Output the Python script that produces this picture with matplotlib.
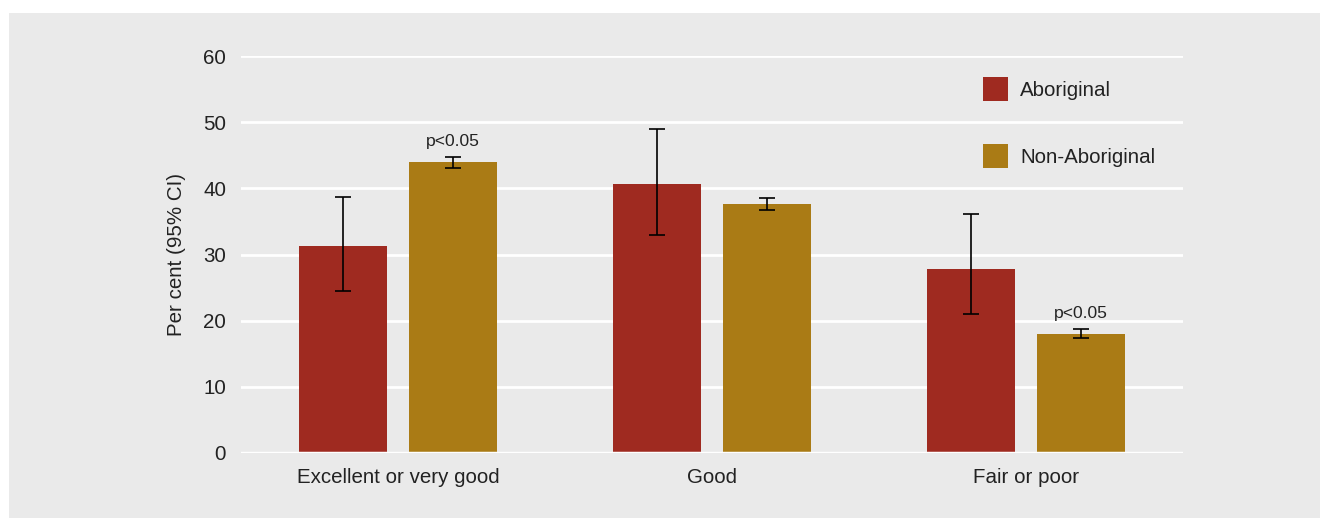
import numpy as np
from matplotlib import pyplot as plt
from matplotlib.patches import Rectangle

categories = ['Excellent or very good', 'Good', 'Fair or poor']
series = ['Aboriginal', 'Non-Aboriginal']

aboriginal = [31.3, 40.6, 27.8]
aboriginal_lo = [24.5, 32.9, 21.0]
aboriginal_hi = [38.7, 49.0, 36.1]

non_aboriginal = [44.0, 37.6, 18.0]
non_aboriginal_lo = [43.1, 36.7, 17.4]
non_aboriginal_hi = [44.7, 38.5, 18.7]

significant = [False, False, False], [True, False, True]

colors = ['#9f2a20', '#aa7b15']
bg = '#eaeaea'
text_color = '#222222'
fs = 14.8

plt.rcParams['font.family'] = ['Liberation Sans', 'DejaVu Sans']

fig = plt.figure(figsize=(13.2, 5.18), dpi=100, facecolor='white')
fig.patches.append(Rectangle((9 / 1320, 0), 1 - 9 / 1320, 1 - 13 / 518,
                             transform=fig.transFigure, facecolor=bg,
                             edgecolor='none', zorder=-10))

ax = fig.add_axes([241 / 1320, 65 / 518, (1183 - 241) / 1320, (453 - 56) / 518])
ax.set_facecolor(bg)

x = np.arange(len(categories))
width = 0.283
offset = 0.175

values = [aboriginal, non_aboriginal]
lows = [aboriginal_lo, non_aboriginal_lo]
highs = [aboriginal_hi, non_aboriginal_hi]

for i, name in enumerate(series):
    xs = x + (i * 2 - 1) * offset
    v = np.array(values[i])
    yerr = [v - np.array(lows[i]), np.array(highs[i]) - v]
    ax.bar(xs, v, width, color=colors[i], label=name, zorder=2)
    ax.errorbar(xs, v, yerr=yerr, fmt='none', ecolor='black',
                elinewidth=1.2, capsize=5.8, capthick=1.2, zorder=3)
    for j, sig in enumerate(significant[i]):
        if sig:
            ax.annotate('p<0.05', (xs[j], highs[i][j]), xytext=(0, 6),
                        textcoords='offset points', ha='center', va='bottom',
                        fontsize=12.6, color=text_color)

ax.set_xlim(-0.5, 2.5)
ax.set_ylim(0, 60)
ax.set_yticks(np.arange(0, 61, 10))
ax.set_xticks(x)
ax.set_xticklabels(categories)
ax.grid(axis='y', color='white', linewidth=2, zorder=1)
ax.axhline(0, color='white', linewidth=2.5, zorder=4)
ax.set_axisbelow(True)
for s in ax.spines.values():
    s.set_visible(False)
ax.tick_params(axis='both', length=0, labelsize=fs, colors=text_color)
ax.tick_params(axis='y', pad=10.8)
ax.tick_params(axis='x', pad=11)
ax.set_ylabel('Per cent (95% CI)', fontsize=fs, color=text_color, labelpad=12)

ax.legend(loc='upper left', bbox_to_anchor=(983 / 1320, 1 - 77 / 518),
          bbox_transform=fig.transFigure, frameon=False, fontsize=fs,
          handlelength=1.23, handleheight=1.41, labelspacing=2.09,
          handletextpad=0.58, borderpad=0, borderaxespad=0,
          labelcolor=text_color)

plt.savefig('out.png', dpi=100, facecolor='white')
plt.close()
